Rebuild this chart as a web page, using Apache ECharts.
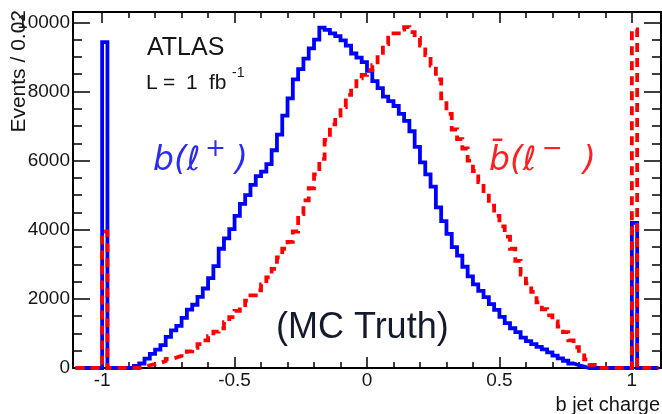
<!DOCTYPE html>
<html>
<head>
<meta charset="utf-8">
<script src="https://cdn.jsdelivr.net/npm/echarts@6/dist/echarts.min.js"></script>
<style>
  html, body { margin: 0; padding: 0; background: #fff; }
  #chart { width: 662px; height: 414px; }
</style>
</head>
<body>
<div id="chart"></div>
<script>
// Histogram binning: 110 bins of width 0.02 from -1.10 to 1.10
const histMin = -1.10;
const binWidth = 0.02;

// b jet charge, b(l+) sample (events per bin)
const bPlusCounts = [
  0, 0, 0, 0, 0, 9430, 0, 0, 0, 0,
  0, 60, 130, 270, 410, 530, 660, 900, 1090, 1220,
  1450, 1690, 1830, 2060, 2300, 2600, 2950, 3450, 3750, 4020,
  4400, 4750, 5000, 5300, 5550, 5680, 5900, 6300, 6750, 7300,
  7800, 8350, 8650, 8950, 9250, 9500, 9850, 9780, 9680, 9600,
  9480, 9330, 9100, 8980, 8850, 8600, 8300, 8100, 7850, 7720,
  7580, 7350, 7150, 6850, 6400, 5950, 5600, 5250, 4650, 4250,
  3880, 3500, 3250, 2930, 2650, 2420, 2230, 2050, 1850, 1680,
  1480, 1300, 1150, 1040, 880, 780, 690, 610, 540, 450,
  360, 280, 210, 130, 80, 40, 0, 0, 0, 0,
  0, 0, 0, 0, 0, 4200, 0, 0, 0, 0
];

// b jet charge, anti-b(l-) sample (events per bin)
const bMinusCounts = [
  0, 0, 0, 0, 0, 3950, 0, 0, 0, 0,
  0, 0, 30, 80, 110, 150, 200, 260, 300, 350,
  410, 480, 580, 690, 800, 920, 1050, 1150, 1330, 1470,
  1650, 1820, 1950, 2100, 2250, 2420, 2620, 2870, 3200, 3450,
  3650, 3950, 4450, 4850, 5200, 5600, 6050, 6600, 7050, 7300,
  7550, 7900, 8150, 8380, 8480, 8620, 8760, 9050, 9370, 9560,
  9680, 9790, 9860, 9720, 9550, 9330, 9050, 8750, 8350, 7800,
  7350, 6900, 6620, 6350, 6000, 5700, 5380, 5050, 4700, 4400,
  4100, 3800, 3450, 3100, 2700, 2450, 2200, 1900, 1700, 1520,
  1350, 1200, 1040, 800, 600, 430, 250, 90, 0, 0,
  0, 0, 0, 0, 0, 9800, 0, 0, 0, 0
];

// Axis ticks and labels
const xMajorTicks = [-1, -0.5, 0, 0.5, 1];
const xTickLabels = ['-1', '-0.5', '0', '0.5', '1'];
const xMinorTicks = [-0.9, -0.8, -0.7, -0.6, -0.4, -0.3, -0.2, -0.1,
                     0.1, 0.2, 0.3, 0.4, 0.6, 0.7, 0.8, 0.9];
const yTickLabels = ['0', '2000', '4000', '6000', '8000', '10000'];

// Step outline: one point per lower bin edge plus the closing upper edge
function stepPoints(counts) {
  const pts = counts.map((c, i) => [+(histMin + i * binWidth).toFixed(2), c]);
  pts.push([+(histMin + counts.length * binWidth).toFixed(2), 0]);
  return pts;
}

const FONT = 'Liberation Sans, Arial, sans-serif';
const MATH = 'DejaVu Sans, sans-serif';
const INK = '#151515';
const BLUE_TXT = '#2b2bf2';
const RED_TXT = '#ff1f1f';

function xAxisDef(position, ticks, len, withLabels, withLine) {
  return {
    type: 'value', position: position, min: -1.11, max: 1.11,
    axisLine: { show: withLine, onZero: false, lineStyle: { color: '#000', width: 2 } },
    axisTick: { show: true, inside: true, length: len, customValues: ticks,
                lineStyle: { color: '#000', width: 1.5 } },
    axisLabel: withLabels ? {
      show: true, customValues: ticks, margin: 3, color: INK,
      fontFamily: FONT, fontSize: 19,
      formatter: v => xTickLabels[xMajorTicks.indexOf(+v.toFixed(2))] ?? ''
    } : { show: false },
    splitLine: { show: false }
  };
}

function yAxisDef(position, withLabels) {
  return {
    type: 'value', position: position, min: 0, max: 10300, interval: 2000,
    axisLine: { show: true, onZero: false, lineStyle: { color: '#000', width: 2 } },
    axisTick: { show: true, inside: true, length: 17, lineStyle: { color: '#000', width: 1.5 } },
    minorTick: { show: true, splitNumber: 4, length: 9, lineStyle: { color: '#000', width: 1.5 } },
    axisLabel: withLabels ? {
      show: true, margin: 3, color: INK, fontFamily: FONT, fontSize: 19,
      formatter: v => yTickLabels[Math.round(v / 2000)] ?? ''
    } : { show: false },
    splitLine: { show: false }
  };
}

function txt(x, y, text, size, color, opts) {
  const o = opts || {};
  return {
    type: 'text', x: x, y: y, rotation: o.rotation || 0, z: 10,
    style: {
      text: text, fill: color,
      font: (o.italic ? 'italic ' : '') + size + 'px ' + (o.family || FONT),
      align: o.align || 'left', verticalAlign: 'middle',
      textAlign: o.align || 'left', textVerticalAlign: 'middle'
    }
  };
}

const chart = echarts.init(document.getElementById('chart'), null, { renderer: 'canvas' });

chart.setOption({
  animation: false,
  backgroundColor: '#fff',
  grid: { left: 73, right: 1, top: 12, bottom: 46, containLabel: false },
  xAxis: [
    xAxisDef('bottom', xMajorTicks, 11, true, true),
    xAxisDef('bottom', xMinorTicks, 6, false, false),
    xAxisDef('top', xMajorTicks, 11, false, true),
    xAxisDef('top', xMinorTicks, 6, false, false)
  ],
  yAxis: [yAxisDef('left', true), yAxisDef('right', false)],
  series: [
    {
      name: 'b(l+)', type: 'line', xAxisIndex: 0, yAxisIndex: 0,
      data: stepPoints(bPlusCounts), step: 'end', showSymbol: false, clip: false, z: 2,
      lineStyle: { color: '#0000ff', width: 3.8, join: 'miter', cap: 'butt' }
    },
    {
      name: 'bbar(l-)', type: 'line', xAxisIndex: 0, yAxisIndex: 0,
      data: stepPoints(bMinusCounts), step: 'end', showSymbol: false, clip: false, z: 3,
      lineStyle: { color: '#ff0000', width: 3.8, type: [9, 6], join: 'miter', cap: 'butt' }
    }
  ],
  graphic: [
    // axis titles
    txt(19, 10, 'Events / 0.02', 21, INK, { rotation: Math.PI / 2, align: 'right' }),
    txt(660, 405, 'b jet charge', 20, INK, { align: 'right' }),
    // experiment and luminosity
    txt(147, 48, 'ATLAS', 25, INK),
    txt(146, 83, 'L', 21, INK),
    txt(163, 83, '=', 21, INK),
    txt(186, 83, '1', 21, INK),
    txt(209, 83, 'fb', 21, INK),
    txt(232, 73, '-1', 14, INK),
    // sample labels
    txt(153, 161, 'b(\u2113', 33, BLUE_TXT, { italic: true, family: MATH }),
    txt(205, 149, '+', 25, BLUE_TXT, { family: MATH }),
    txt(235, 161, ')', 33, BLUE_TXT, { italic: true, family: MATH }),
    txt(489, 161, 'b\u0304(\u2113', 33, RED_TXT, { italic: true, family: MATH }),
    txt(542, 149, '\u2212', 25, RED_TXT, { family: MATH }),
    txt(583, 161, ')', 33, RED_TXT, { italic: true, family: MATH }),
    // generator-level note
    txt(276, 328, '(MC Truth)', 36, '#141a2e')
  ]
});
</script>
</body>
</html>
